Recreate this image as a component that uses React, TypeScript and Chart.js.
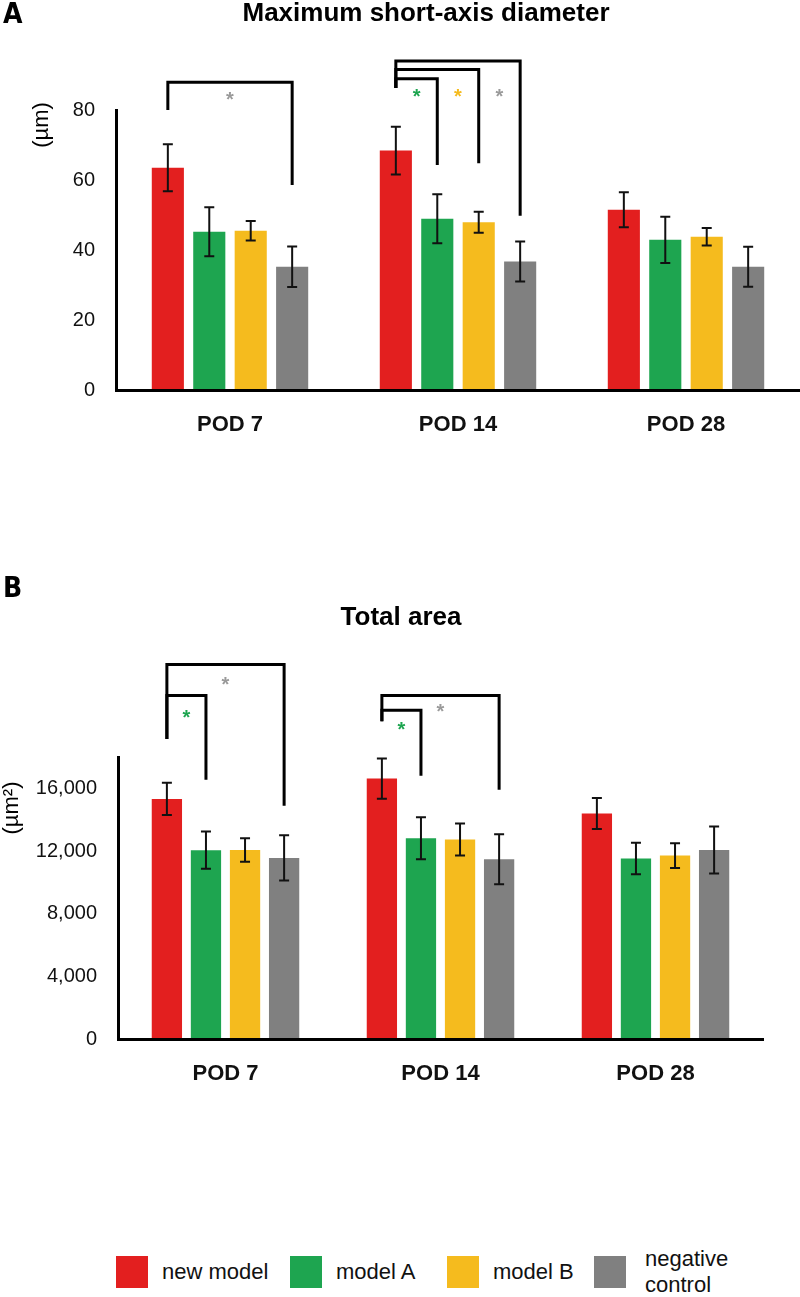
import React, { useEffect, useRef } from 'react';
import { Chart, registerables } from 'chart.js';

Chart.register(...registerables);

// ---------- data ----------
const categories = ['POD 7', 'POD 14', 'POD 28'];
const seriesNames = ['new model', 'model A', 'model B', 'negative control'];
const seriesColors = ['#E31F1F', '#1EA550', '#F5BB1E', '#808080'];

// Panel A: maximum short-axis diameter (µm)
const diamNew = [63.5, 68.4, 51.5];
const diamA = [45.2, 48.9, 42.9];
const diamB = [45.5, 47.9, 43.8];
const diamNeg = [35.2, 36.7, 35.2];
const diamNewErr = [6.7, 6.8, 5.0];
const diamAErr = [7.0, 7.0, 6.6];
const diamBErr = [2.8, 3.0, 2.5];
const diamNegErr = [5.8, 5.7, 5.7];
const diamTicks = [0, 20, 40, 60, 80];
const diamMax = 80;

// Panel B: total area (µm²)
const areaNew = [15320, 16620, 14400];
const areaA = [12050, 12810, 11520];
const areaB = [12070, 12730, 11710];
const areaNeg = [11560, 11470, 12070];
const areaNewErr = [1030, 1280, 990];
const areaAErr = [1190, 1340, 1010];
const areaBErr = [750, 1020, 790];
const areaNegErr = [1440, 1600, 1500];
const areaTicks = [0, 4000, 8000, 12000, 16000];
const areaMax = 18000;

// significance brackets (values in axis units): compare series 0 with series `to`
const STAR_GRAY = '#9a9a9a';
const diamSig = [
  { cat: 0, to: 3, top: 87.9, fromEnd: 80, toEnd: 58.6 },
  { cat: 1, to: 1, top: 88.9, fromEnd: 86.3, toEnd: 64.3 },
  { cat: 1, to: 2, top: 91.6, fromEnd: 86.3, toEnd: 64.8 },
  { cat: 1, to: 3, top: 94.0, fromEnd: 86.3, toEnd: 49.8 },
];
const diamStars = [
  { cat: 0, a: 0, b: 3, y: 84.0, color: STAR_GRAY },
  { cat: 1, a: 0, b: 1, y: 84.8, color: '#1EA550' },
  { cat: 1, a: 1, b: 2, y: 84.8, color: '#F5BB1E' },
  { cat: 1, a: 2, b: 3, y: 84.8, color: STAR_GRAY },
];
const areaSig = [
  { cat: 0, to: 1, top: 21922, fromEnd: 19152, toEnd: 16549 },
  { cat: 0, to: 3, top: 23905, fromEnd: 19152, toEnd: 14886 },
  { cat: 1, to: 1, top: 20981, fromEnd: 20278, toEnd: 16804 },
  { cat: 1, to: 3, top: 21925, fromEnd: 20278, toEnd: 15909 },
];
const areaStars = [
  { cat: 0, a: 0, b: 1, y: 20771, color: '#1EA550' },
  { cat: 0, a: 0, b: 3, y: 22837, color: STAR_GRAY },
  { cat: 1, a: 0, b: 1, y: 19958, color: '#1EA550' },
  { cat: 1, a: 0, b: 3, y: 21135, color: STAR_GRAY },
];

// ---------- styling ----------
const FONT = '"Liberation Sans", Arial, Helvetica, sans-serif';
const NARROW = '"Liberation Sans Narrow", "DejaVu Sans Condensed", "Liberation Sans", Arial, sans-serif';

const annotPlugin = {
  id: 'annot',
  afterDatasetsDraw(chart: any, _args: any, opts: any) {
    const ctx = chart.ctx;
    const ys = chart.scales.y;
    ctx.save();
    // error bars
    chart.data.datasets.forEach((ds: any, i: number) => {
      const meta = chart.getDatasetMeta(i);
      meta.data.forEach((bar: any, j: number) => {
        const v = ds.data[j];
        const e = ds.errors[j];
        const x = bar.x;
        const y1 = ys.getPixelForValue(v + e);
        const y2 = ys.getPixelForValue(v - e);
        ctx.strokeStyle = '#111';
        ctx.lineWidth = 2;
        ctx.beginPath();
        ctx.moveTo(x, y1);
        ctx.lineTo(x, y2);
        ctx.moveTo(x - 5, y1);
        ctx.lineTo(x + 5, y1);
        ctx.moveTo(x - 5, y2);
        ctx.lineTo(x + 5, y2);
        ctx.stroke();
      });
    });
    // brackets
    const bx = (s: number, c: number) => chart.getDatasetMeta(s).data[c].x;
    ctx.strokeStyle = '#000';
    ctx.lineWidth = 3;
    ctx.lineJoin = 'miter';
    (opts.brackets || []).forEach((b: any) => {
      const xa = bx(0, b.cat);
      const xb = bx(b.to, b.cat);
      ctx.beginPath();
      ctx.moveTo(xa, ys.getPixelForValue(b.fromEnd));
      ctx.lineTo(xa, ys.getPixelForValue(b.top));
      ctx.lineTo(xb, ys.getPixelForValue(b.top));
      ctx.lineTo(xb, ys.getPixelForValue(b.toEnd));
      ctx.stroke();
    });
    // stars
    ctx.font = `bold 20px ${FONT}`;
    ctx.textAlign = 'center';
    ctx.textBaseline = 'alphabetic';
    (opts.stars || []).forEach((s: any) => {
      const x = (bx(s.a, s.cat) + bx(s.b, s.cat)) / 2;
      const y = ys.getPixelForValue(s.y);
      const m = ctx.measureText('*');
      const off = (m.actualBoundingBoxAscent - m.actualBoundingBoxDescent) / 2;
      ctx.fillStyle = s.color;
      ctx.fillText('*', x, y + off);
    });
    ctx.restore();
  },
  afterDraw(chart: any, _args: any, opts: any) {
    const ctx = chart.ctx;
    ctx.save();
    (opts.texts || []).forEach((t: any) => {
      ctx.save();
      ctx.font = t.font;
      ctx.fillStyle = t.color || '#000';
      ctx.textAlign = t.align || 'center';
      ctx.textBaseline = 'middle';
      ctx.translate(t.x, t.y);
      if (t.rotate) ctx.rotate(t.rotate);
      ctx.fillText(t.text, 0, 0);
      ctx.restore();
    });
    ctx.restore();
  },
};

function makeConfig(p: any) {
  return {
    type: 'bar',
    data: {
      labels: categories,
      datasets: p.values.map((vals: number[], i: number) => ({
        label: seriesNames[i],
        data: vals,
        errors: p.errors[i],
        backgroundColor: seriesColors[i],
        borderWidth: 0,
        categoryPercentage: 0.727,
        barPercentage: 0.775,
      })),
    },
    options: {
      responsive: false,
      animation: false,
      devicePixelRatio: 1,
      layout: { padding: p.padding },
      plugins: {
        legend: { display: false },
        tooltip: { enabled: false },
        title: { display: false },
        annot: { brackets: p.brackets, stars: p.stars, texts: p.texts },
      },
      scales: {
        x: {
          grid: { display: false, drawTicks: false },
          border: { display: true, color: '#000', width: 3, z: 1 },
          ticks: {
            font: { family: FONT, size: 22, weight: 'bold' },
            color: '#111',
            padding: 22,
            maxRotation: 0,
            autoSkip: false,
          },
          afterFit: (s: any) => { s.height = 60; },
        },
        y: {
          min: 0,
          max: p.max,
          grid: { display: false, drawTicks: false },
          border: { display: true, color: '#000', width: 3, z: 1 },
          ticks: {
            font: { family: FONT, size: 20 },
            color: '#111',
            padding: 21,
            callback: (v: any) => Number(v).toLocaleString('en-US'),
          },
          afterBuildTicks: (s: any) => { s.ticks = p.ticks.map((v: number) => ({ value: v })); },
          afterFit: (s: any) => { s.width = p.yWidth; },
        },
      },
    },
    plugins: [annotPlugin],
  };
}

const legendLeft = [116, 290, 447, 594];

export default function App() {
  const refA = useRef<HTMLCanvasElement>(null);
  const refB = useRef<HTMLCanvasElement>(null);

  useEffect(() => {
    const a = new Chart(refA.current as any, makeConfig({
      values: [diamNew, diamA, diamB, diamNeg],
      errors: [diamNewErr, diamAErr, diamBErr, diamNegErr],
      max: diamMax,
      ticks: diamTicks,
      yWidth: 116,
      padding: { top: 110, left: 0, right: 0, bottom: 0 },
      brackets: diamSig,
      stars: diamStars,
      texts: [
        { text: 'A', x: 3, y: 16, font: `bold 28px ${NARROW}`, align: 'left' },
        { text: 'Maximum short-axis diameter', x: 426, y: 14, font: `bold 26px ${FONT}` },
        { text: '(µm)', x: 42, y: 125, rotate: -Math.PI / 2, font: `22px ${FONT}` },
      ],
    }) as any);
    const b = new Chart(refB.current as any, makeConfig({
      values: [areaNew, areaA, areaB, areaNeg],
      errors: [areaNewErr, areaAErr, areaBErr, areaNegErr],
      max: areaMax,
      ticks: areaTicks,
      yWidth: 118,
      padding: { top: 196, left: 0, right: 37, bottom: 2 },
      brackets: areaSig,
      stars: areaStars,
      texts: [
        { text: 'B', x: 3, y: 29, font: `bold 28px ${NARROW}`, align: 'left' },
        { text: 'Total area', x: 401, y: 57, font: `bold 26px ${FONT}` },
        { text: '(µm²)', x: 12, y: 247, rotate: -Math.PI / 2, font: `22px ${FONT}` },
      ],
    }) as any);
    return () => {
      a.destroy();
      b.destroy();
    };
  }, []);

  return (
    <div style={{ position: 'absolute', left: 0, top: 0, width: 800, height: 1297, background: '#fff', overflow: 'hidden', fontFamily: FONT }}>
      <canvas ref={refA} width={800} height={450} style={{ position: 'absolute', left: 0, top: 0, width: 800, height: 450 }} />
      <canvas ref={refB} width={800} height={540} style={{ position: 'absolute', left: 0, top: 561, width: 800, height: 540 }} />
      {seriesNames.map((name, i) => (
        <div key={name} style={{ position: 'absolute', left: legendLeft[i], top: 1246, height: 52, display: 'flex', alignItems: 'center' }}>
          <div style={{ width: 32, height: 32, background: seriesColors[i], flex: 'none' }} />
          <div style={{ marginLeft: i === 3 ? 19 : 14, fontSize: 22, lineHeight: '26px', color: '#111', width: i === 3 ? 100 : 'auto', whiteSpace: i === 3 ? 'normal' : 'nowrap' }}>
            {name}
          </div>
        </div>
      ))}
    </div>
  );
}
